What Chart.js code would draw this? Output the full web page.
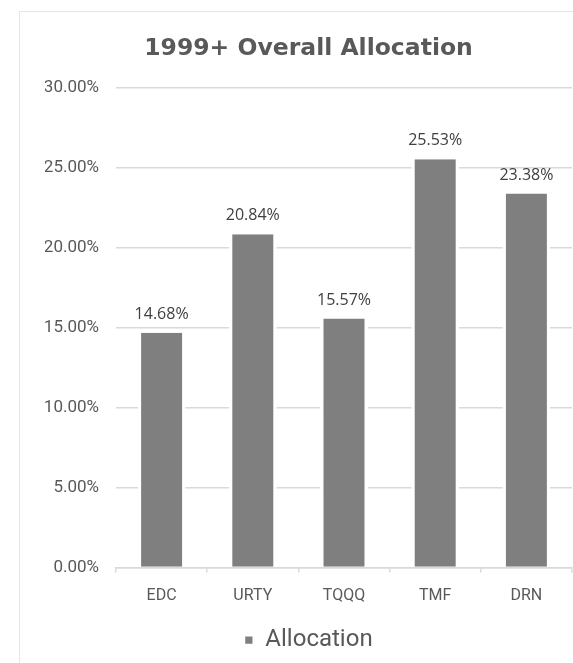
<!DOCTYPE html>
<html>
<head>
<meta charset="utf-8">
<script src="https://cdn.jsdelivr.net/npm/chart.js@4"></script>
<style>
  html, body { margin: 0; padding: 0; background: #fff; }
  #wrap { position: relative; width: 573px; height: 663px; overflow: hidden; }
  #frame { position: absolute; left: 19px; top: 11px; width: 700px; height: 800px; border: 1px solid #e6e6e6; }
  #myChart { position: absolute; left: 0; top: 0; }
</style>
</head>
<body>
<div id="wrap">
  <div id="frame"></div>
  <canvas id="myChart" width="573" height="663"></canvas>
</div>
<script>
// data
const tickers = ['EDC', 'URTY', 'TQQQ', 'TMF', 'DRN'];
const allocation = [14.68, 20.84, 15.57, 25.53, 23.38];
const yTicks = [0, 5, 10, 15, 20, 25, 30];

const labelsPlugin = {
  id: 'barLabels',
  afterDatasetsDraw(chart) {
    const c = chart.ctx;
    const meta = chart.getDatasetMeta(0);
    c.save();
    c.font = '16px "Open Sans"';
    c.fillStyle = '#404040';
    c.textAlign = 'center';
    c.textBaseline = 'middle';
    meta.data.forEach((bar, i) => {
      c.fillText(allocation[i].toFixed(2) + '%', bar.x, bar.y - 18.5);
    });
    c.restore();
  }
};

const ctx = document.getElementById('myChart').getContext('2d');
const myChart = new Chart(ctx, {
  type: 'bar',
  data: {
    labels: tickers,
    datasets: [{
      label: 'Allocation',
      data: allocation,
      backgroundColor: '#7f7f7f',
      borderColor: '#ffffff',
      borderWidth: { left: 3.5, right: 3.5, top: 0, bottom: 0 },
      borderSkipped: false,
      barPercentage: 0.526,
      categoryPercentage: 1
    }]
  },
  options: {
    responsive: false,
    animation: false,
    layout: { padding: { left: 45, right: 1, top: 0, bottom: 1 } },
    plugins: {
      title: {
        display: true,
        text: '1999+ Overall Allocation',
        color: '#595959',
        font: { family: '"DejaVu Sans"', size: 23.5, weight: 'bold', lineHeight: 1.2 },
        padding: { top: 35, bottom: 24.5 }
      },
      legend: {
        position: 'bottom',
        labels: {
          color: '#595959',
          font: { family: 'Roboto', size: 24 },
          boxWidth: 9,
          boxHeight: 9,
          padding: 10
        }
      },
      tooltip: { enabled: false }
    },
    scales: {
      x: {
        grid: {
          display: true,
          drawOnChartArea: false,
          drawTicks: true,
          tickLength: 5,
          color: '#d9d9d9',
          lineWidth: 1.5
        },
        border: { display: true, color: '#d9d9d9', width: 1.5 },
        ticks: {
          color: '#595959',
          font: { family: 'Roboto', size: 16 },
          padding: 14
        },
        afterFit: s => { s.height = 50.5; }
      },
      y: {
        min: 0,
        max: 30,
        afterBuildTicks: s => { s.ticks = yTicks.map(v => ({ value: v })); },
        grid: { color: '#d9d9d9', lineWidth: 1.5, drawTicks: false },
        border: { display: false },
        ticks: {
          color: '#595959',
          font: { family: 'Roboto', size: 17 },
          padding: 17,
          callback: v => v.toFixed(2) + '%'
        },
        afterFit: s => { s.width = 71; }
      }
    }
  },
  plugins: [labelsPlugin]
});
</script>
</body>
</html>
